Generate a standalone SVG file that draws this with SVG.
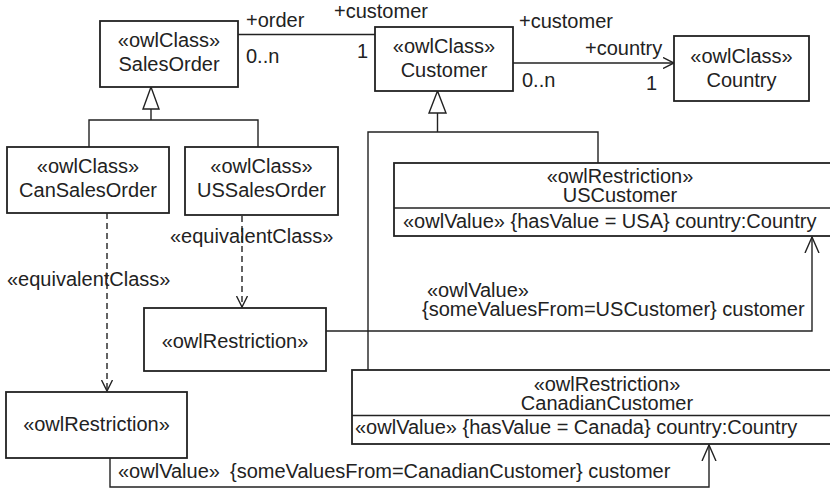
<svg xmlns="http://www.w3.org/2000/svg" width="830" height="489" viewBox="0 0 830 489">
<defs>
<style>
text{font-family:"Liberation Sans",Arial,sans-serif;font-size:20px;fill:#222}
.c{text-anchor:middle}
.box{fill:#fff;stroke:#222;stroke-width:1.8}
.ln{fill:none;stroke:#222;stroke-width:1.4}
.dash{fill:none;stroke:#222;stroke-width:1.4;stroke-dasharray:6,4}
.tri{fill:#fff;stroke:#222;stroke-width:1.4}
</style>
<marker id="open" viewBox="0 0 12 12" refX="11" refY="6" markerWidth="12" markerHeight="12" markerUnits="userSpaceOnUse" orient="auto">
<path d="M0,0.5 L11,6 L0,11.5" fill="none" stroke="#222" stroke-width="1.4"/>
</marker>
<marker id="openL" viewBox="0 0 17 16" refX="16" refY="8" markerWidth="17" markerHeight="16" markerUnits="userSpaceOnUse" orient="auto">
<path d="M0,1 L16,8 L0,15" fill="none" stroke="#222" stroke-width="1.4"/>
</marker>
</defs>
<rect width="830" height="489" fill="#fff"/>

<g id="connectors">
<line class="ln" x1="238" y1="34.5" x2="375" y2="34.5"/>
<line class="ln" x1="513" y1="63" x2="674" y2="63" marker-end="url(#open)"/>
<polyline class="ln" points="151,109 151,120"/>
<polyline class="ln" points="89,147 89,120 258,120 258,147"/>
<polygon class="tri" points="151,87 143,109 159,109"/>
<polyline class="ln" points="437.5,113 437.5,132"/>
<polyline class="ln" points="368,370 368,132 598,132 598,163"/>
<polygon class="tri" points="437.5,91 429,113 446,113"/>
<line class="dash" x1="242" y1="216" x2="242" y2="307" marker-end="url(#open)"/>
<line class="dash" x1="107" y1="213" x2="107" y2="391" marker-end="url(#open)"/>
<polyline class="ln" points="326,331 812,331 812,237" marker-end="url(#openL)"/>
<polyline class="ln" points="110,458 110,487 709,487 709,445" marker-end="url(#openL)"/>
<text x="246" y="27">+order</text>
<text x="246" y="63">0..n</text>
<text x="357" y="58">1</text>
<text x="334" y="18">+customer</text>
<text x="519" y="28">+customer</text>
<text x="585" y="55">+country</text>
<text x="522" y="87">0..n</text>
<text x="646" y="90">1</text>
<text x="170" y="243">«equivalentClass»</text>
<text x="7" y="286">«equivalentClass»</text>
<text x="427" y="297">«owlValue»</text>
<text x="422" y="316">{someValuesFrom=USCustomer} customer</text>
<text x="118" y="478">«owlValue»<tspan x="230">{someValuesFrom=CanadianCustomer} customer</tspan></text>
</g>

<g id="SalesOrder">
<rect class="box" x="100" y="21" width="138" height="66"/>
<text class="c" x="169" y="47">«owlClass»</text>
<text class="c" x="169" y="71">SalesOrder</text>
</g>

<g id="Customer">
<rect class="box" x="375" y="27" width="138" height="64"/>
<text class="c" x="444" y="53">«owlClass»</text>
<text class="c" x="444" y="77">Customer</text>
</g>

<g id="Country">
<rect class="box" x="674" y="36" width="135" height="65"/>
<text class="c" x="741.5" y="63">«owlClass»</text>
<text class="c" x="741.5" y="87">Country</text>
</g>

<g id="CanSalesOrder">
<rect class="box" x="7" y="147" width="162" height="66"/>
<text class="c" x="88" y="173">«owlClass»</text>
<text class="c" x="88" y="197">CanSalesOrder</text>
</g>

<g id="USSalesOrder">
<rect class="box" x="185" y="147" width="153" height="68"/>
<text class="c" x="261.5" y="173">«owlClass»</text>
<text class="c" x="261.5" y="197">USSalesOrder</text>
</g>

<g id="USCustomer">
<rect class="box" x="394" y="163" width="450" height="73"/>
<line class="ln" x1="394" y1="208" x2="844" y2="208"/>
<text class="c" x="620" y="183">«owlRestriction»</text>
<text class="c" x="620" y="202">USCustomer</text>
<text x="403" y="228">«owlValue» {hasValue = USA} country:Country</text>
</g>

<g id="USRestriction">
<rect class="box" x="144" y="308" width="182" height="63"/>
<text class="c" x="235" y="348">«owlRestriction»</text>
</g>

<g id="CanadianCustomer">
<rect class="box" x="352" y="370" width="500" height="74"/>
<line class="ln" x1="352" y1="415.5" x2="852" y2="415.5"/>
<text class="c" x="607" y="391">«owlRestriction»</text>
<text class="c" x="607" y="410">CanadianCustomer</text>
<text x="355" y="434">«owlValue» {hasValue = Canada} country:Country</text>
</g>

<g id="CanRestriction">
<rect class="box" x="6" y="392" width="181" height="66"/>
<text class="c" x="96.5" y="431">«owlRestriction»</text>
</g>
</svg>
